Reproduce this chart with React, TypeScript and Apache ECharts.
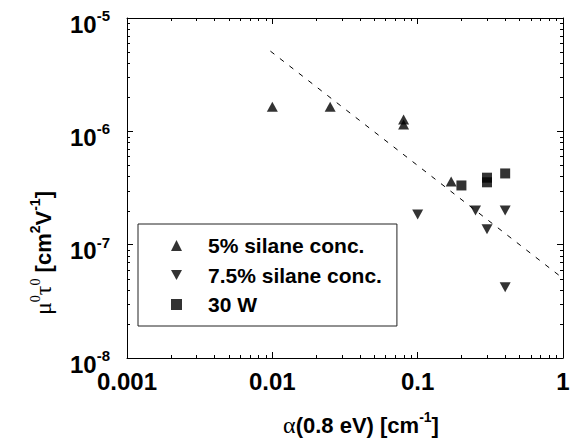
import React, { useEffect, useRef } from "react";
import * as echarts from "echarts";

// ---- data ----
const silane5X = [0.01, 0.025, 0.08, 0.08, 0.17];
const silane5Y = [1.65e-6, 1.65e-6, 1.27e-6, 1.15e-6, 3.6e-7];

const silane75X = [0.1, 0.25, 0.3, 0.4, 0.4];
const silane75Y = [1.85e-7, 2.0e-7, 1.37e-7, 2.0e-7, 4.2e-8];

const w30X = [0.2, 0.3, 0.3, 0.4];
const w30Y = [3.33e-7, 3.9e-7, 3.55e-7, 4.25e-7];

const fitX = [0.0097, 0.95];
const fitY = [5.1e-6, 5.3e-8];

const seriesNames = ["5% silane conc.", "7.5% silane conc.", "30 W"];

// minor tick decorations (log axes)
const mantissas = [2, 3, 4, 5, 6, 7, 8, 9];
const xDecades = [0.001, 0.01, 0.1];
const yDecades = [1e-8, 1e-7, 1e-6];

const SANS = "'Liberation Sans', Arial, Helvetica, sans-serif";
const SERIF = "'Liberation Serif', 'Times New Roman', serif";

const zip = (a: number[], b: number[]) => a.map((v, i) => [v, b[i]]);

const DOWN_TRI = "path://M0,0L10,0L5,9Z";

const tickRich = {
  b: { fontSize: 24, fontWeight: "bold", fontFamily: SANS, lineHeight: 32, color: "#000" },
  s: { fontSize: 15, fontWeight: "bold", fontFamily: SANS, lineHeight: 14, verticalAlign: "top", color: "#000" },
};

const nameRich = {
  b: { fontSize: 22, fontWeight: "bold", fontFamily: SANS, lineHeight: 30, color: "#000" },
  s: { fontSize: 14, fontWeight: "bold", fontFamily: SANS, lineHeight: 13, verticalAlign: "top", color: "#000" },
  g: { fontSize: 24, fontFamily: SERIF, lineHeight: 30, color: "#000" },
  gs: { fontSize: 14, fontFamily: SERIF, lineHeight: 13, verticalAlign: "top", color: "#000" },
};

export default function App() {
  const ref = useRef<HTMLDivElement>(null);
  useEffect(() => {
    if (!ref.current) return;
    const chart = echarts.init(ref.current, undefined, { renderer: "svg" });

    const minorData: number[][] = [];
    xDecades.forEach((d) => mantissas.forEach((m) => minorData.push([d * m, 1e-6, 0])));
    yDecades.forEach((d) => mantissas.forEach((m) => minorData.push([0.01, d * m, 1])));

    const logAxisCommon = {
      type: "log",
      logBase: 10,
      axisLine: { show: true, lineStyle: { color: "#000", width: 1 } },
      axisTick: { show: true, inside: true, length: 6, lineStyle: { color: "#000", width: 1 } },
      splitLine: { show: false },
      minorTick: { show: false },
    };

    const option: any = {
      animation: false,
      backgroundColor: "#fff",
      grid: { left: 127, right: 18, top: 18, bottom: 83, containLabel: false },
      graphic: [
        {
          type: "text",
          x: 43,
          y: 315,
          rotation: Math.PI / 2,
          silent: true,
          style: {
            text: "{g|μ}{gs|0}{g|τ}{gs|0}{b| [cm}{s|2}{b|V}{s|-1}{b|]}",
            rich: nameRich,
            align: "left",
            verticalAlign: "middle",
          },
        },
      ],
      xAxis: [
        {
          ...logAxisCommon,
          min: 0.001,
          max: 1,
          position: "bottom",
          axisLabel: {
            margin: 11,
            fontSize: 24,
            fontWeight: "bold",
            fontFamily: SANS,
            color: "#000",
            formatter: (v: number) => {
              const e = Math.round(Math.log10(v));
              return e >= 0 ? String(Math.pow(10, e)) : (Math.pow(10, e)).toFixed(-e);
            },
          },
          name: "{g|α}{b|(0.8 eV) [cm}{s|-1}{b|]}",
          nameLocation: "middle",
          nameGap: 52,
          nameTextStyle: { rich: nameRich, padding: [0, 0, 0, 32] },
        },
        {
          ...logAxisCommon,
          min: 0.001,
          max: 1,
          position: "top",
          axisLabel: { show: false },
        },
      ],
      yAxis: [
        {
          ...logAxisCommon,
          min: 1e-8,
          max: 1e-5,
          position: "left",
          axisLabel: {
            margin: 17,
            padding: [12, 0, 0, 0],
            formatter: (v: number) => {
              const e = Math.round(Math.log10(v));
              return "{b|10}{s|" + e + "}";
            },
            rich: tickRich,
          },
        },
        {
          ...logAxisCommon,
          min: 1e-8,
          max: 1e-5,
          position: "right",
          axisLabel: { show: false },
        },
      ],
      legend: {
        data: seriesNames,
        orient: "vertical",
        left: 138,
        top: 224,
        padding: [11, 15, 11, 33],
        itemGap: 8.5,
        itemWidth: 11,
        itemHeight: 11,
        borderColor: "#222",
        borderWidth: 1,
        borderRadius: 0,
        backgroundColor: "#fff",
        selectedMode: false,
        textStyle: {
          fontSize: 21,
          fontWeight: "bold",
          fontFamily: SANS,
          color: "#000",
          lineHeight: 20,
          padding: [0, 0, 0, 21],
        },
      },
      series: [
        {
          type: "custom",
          name: "minorTicks",
          silent: true,
          xAxisIndex: 0,
          yAxisIndex: 0,
          data: minorData,
          encode: { x: 0, y: 1 },
          z: 1,
          renderItem: (params: any, api: any) => {
            const cs = params.coordSys;
            const kind = api.value(2);
            const st = { stroke: "#000", lineWidth: 1 };
            const len = 3;
            if (kind === 0) {
              const x = Math.round(api.coord([api.value(0), 1e-6])[0]) + 0.5;
              return {
                type: "group",
                children: [
                  { type: "line", shape: { x1: x, y1: cs.y + cs.height, x2: x, y2: cs.y + cs.height - len }, style: st },
                  { type: "line", shape: { x1: x, y1: cs.y, x2: x, y2: cs.y + len }, style: st },
                ],
              };
            }
            const y = Math.round(api.coord([0.01, api.value(1)])[1]) + 0.5;
            return {
              type: "group",
              children: [
                { type: "line", shape: { x1: cs.x, y1: y, x2: cs.x + len, y2: y }, style: st },
                { type: "line", shape: { x1: cs.x + cs.width, y1: y, x2: cs.x + cs.width - len, y2: y }, style: st },
              ],
            };
          },
        },
        {
          type: "line",
          name: "fit",
          data: zip(fitX, fitY),
          symbol: "none",
          lineStyle: { color: "#000", width: 1, type: [5, 7] },
          z: 2,
          silent: true,
        },
        {
          type: "scatter",
          name: seriesNames[0],
          data: zip(silane5X, silane5Y),
          symbol: "triangle",
          symbolSize: [11, 10],
          itemStyle: { color: "#000" },
          z: 3,
        },
        {
          type: "scatter",
          name: seriesNames[1],
          data: zip(silane75X, silane75Y),
          symbol: DOWN_TRI,
          symbolSize: [11, 10],
          itemStyle: { color: "#000" },
          z: 3,
        },
        {
          type: "scatter",
          name: seriesNames[2],
          data: zip(w30X, w30Y),
          symbol: "rect",
          symbolSize: 10,
          itemStyle: { color: "#000" },
          z: 3,
        },
      ],
    };

    chart.setOption(option);
    return () => chart.dispose();
  }, []);

  return (
    <div
      ref={ref}
      style={{ position: "fixed", left: 0, top: 0, width: 581, height: 442, background: "#fff" }}
    />
  );
}
